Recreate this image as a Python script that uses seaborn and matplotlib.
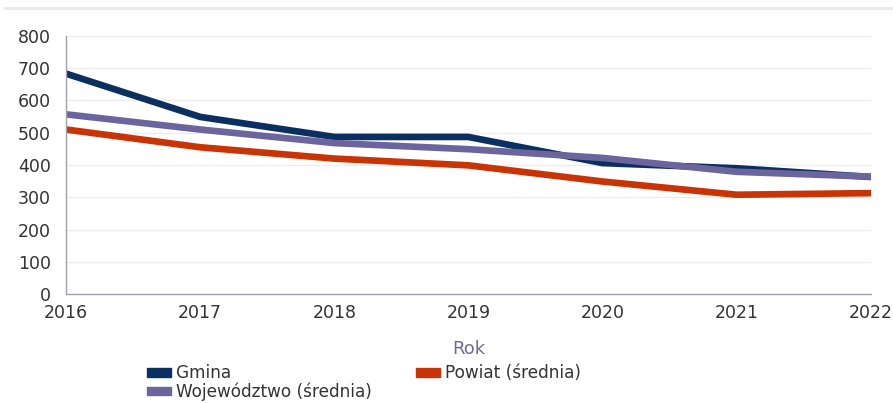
import pandas as pd
import matplotlib.pyplot as plt
import seaborn as sns
from matplotlib.lines import Line2D
from matplotlib.patches import Patch

years = [2016, 2017, 2018, 2019, 2020, 2021, 2022]
gmina = [683, 549, 487, 487, 406, 390, 363]
powiat = [510, 455, 420, 399, 349, 308, 313]
wojewodztwo = [557, 510, 468, 449, 422, 379, 364]

labels = ['Gmina', 'Powiat (średnia)', 'Województwo (średnia)']
colors = ['#0b2f5e', '#c93406', '#6c659d']

df = pd.DataFrame({'Rok': years * 3,
                   'value': gmina + powiat + wojewodztwo,
                   'series': [labels[0]] * 7 + [labels[1]] * 7 + [labels[2]] * 7})

sns.set_style('white')
plt.rcParams['font.family'] = ['DejaVu Sans']

fig = plt.figure(figsize=(8.93, 4.03), dpi=100)
ax = fig.add_axes([0.074, 0.27, 0.901, 0.641])

# Wojewodztwo drawn last so it sits on top where lines cross
sns.lineplot(data=df, x='Rok', y='value', hue='series',
             hue_order=[labels[0], labels[1], labels[2]],
             palette=colors, linewidth=4.8, ax=ax, legend=False)

ax.set_xlim(2016, 2022)
ax.set_ylim(0, 800)
ax.set_yticks(range(0, 801, 100))
ax.set_xticks(years)
ax.grid(axis='y', color='#ececec', linewidth=0.9)
ax.set_axisbelow(True)
for s in ['top', 'right']:
    ax.spines[s].set_visible(False)
for s in ['left', 'bottom']:
    ax.spines[s].set_color('#a0a0b0')
    ax.spines[s].set_linewidth(1.0)
ax.tick_params(axis='both', length=0, labelsize=12.5, colors='#333333')
ax.tick_params(axis='x', pad=7)
ax.tick_params(axis='y', pad=11)
ax.set_ylabel('')
ax.set_xlabel('Rok', fontsize=13, color='#6e6b94', labelpad=13)

handles = [Patch(color=colors[0]), Patch(color=colors[2]), Patch(color=colors[1])]
leg_labels = [labels[0], labels[2], labels[1]]
fig.legend(handles, leg_labels, ncol=2, loc='lower left', bbox_to_anchor=(0.165, 0.005),
           frameon=False, fontsize=12.2, handlelength=1.4, handleheight=0.4,
           handletextpad=0.3, columnspacing=2.6, labelspacing=0.0,
           borderpad=0, borderaxespad=0, labelcolor='#333333')

fig.add_artist(Line2D([0.005, 1.0], [0.98, 0.98], color='#e8e8ec', linewidth=2,
                      transform=fig.transFigure))

fig.savefig('out.png', dpi=100, facecolor='white')
